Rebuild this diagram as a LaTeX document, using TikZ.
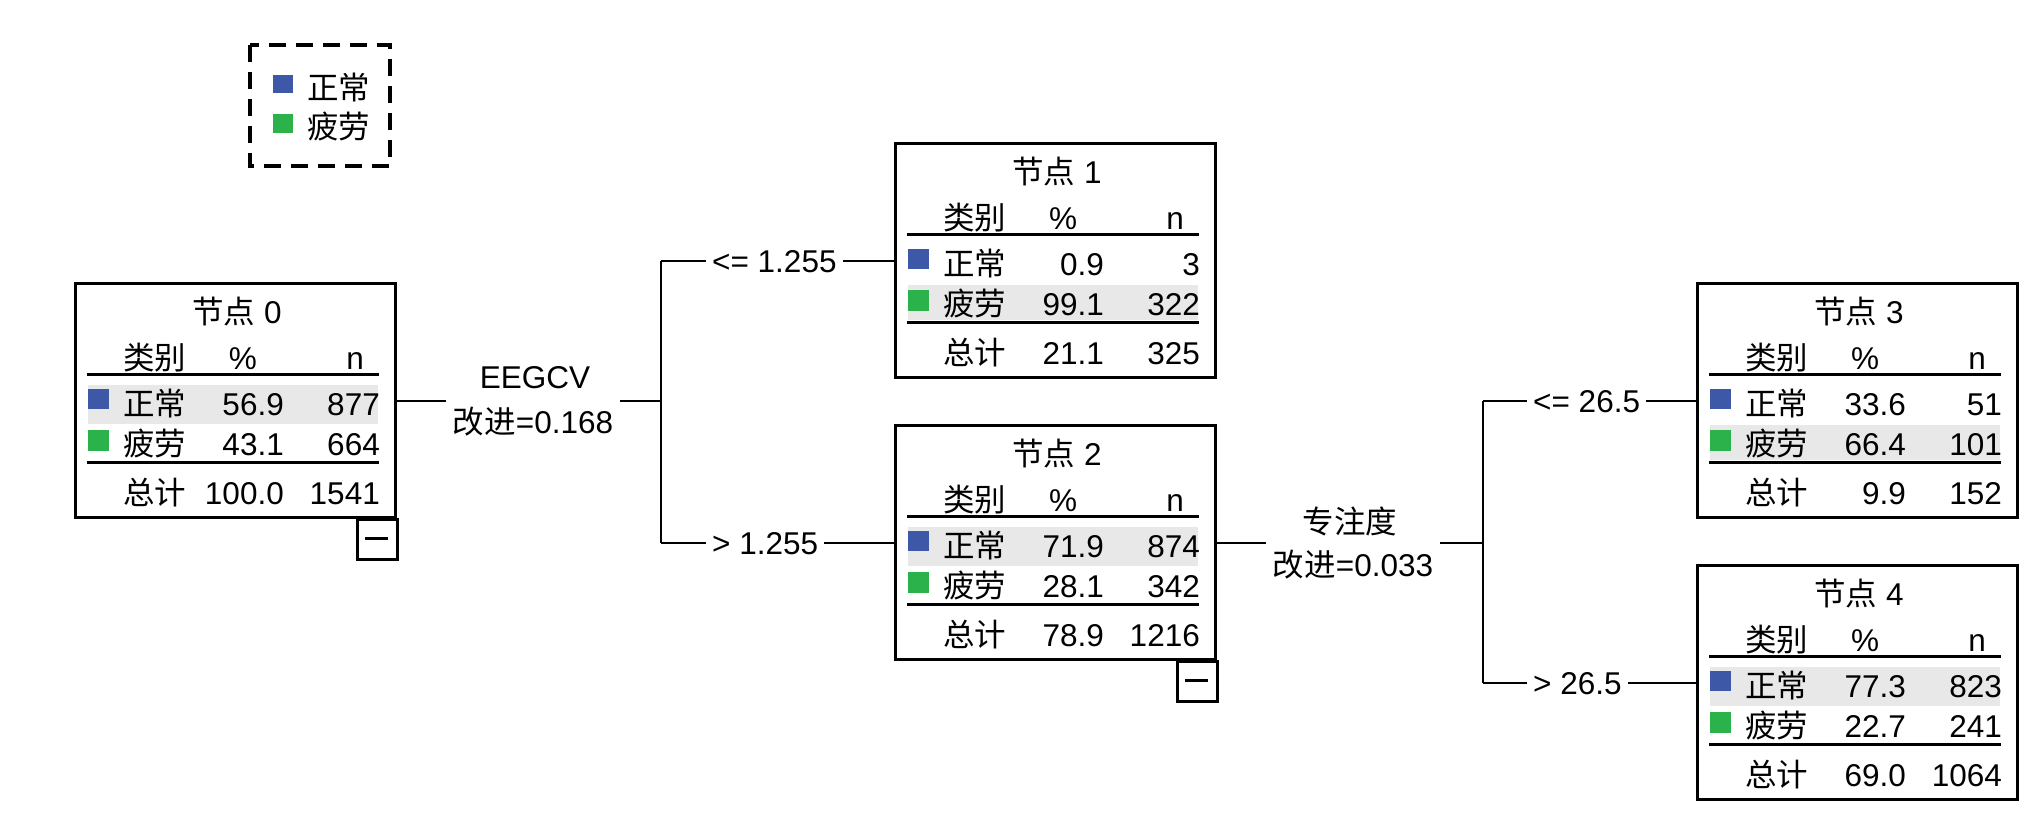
\documentclass[tikz,border=0pt]{standalone}
\usepackage{fontspec}
\setmainfont{Liberation Sans}
\newfontfamily\cjk{Noto Sans CJK SC}
\usetikzlibrary{calc}
\newcommand{\zh}[1]{{\cjk #1}}
\definecolor{clsblue}{RGB}{62,88,168}
\definecolor{clsgreen}{RGB}{43,178,74}
\definecolor{rowshade}{RGB}{232,232,232}
\tikzset{
  txt/.style={inner sep=0pt, font=\fontsize{31.5}{44}\selectfont},
  boxframe/.style={draw, line width=3pt, minimum width=320pt, minimum height=234pt, inner sep=0pt, anchor=north west},
  rulel/.style={line width=3pt},
  conn/.style={line width=2.9pt},
  lbl/.style={txt, inner xsep=6pt},
  legendbox/.style={line width=3.4pt, dash pattern=on 17pt off 10pt},
}
\newcommand{\totals}[3]{%
  \node[txt,anchor=base east] (#1-pt) at (210,222) {#2};
  \node[txt,anchor=base east] (#1-nt) at (306,222) {#3};}
\newcommand{\tnode}[9]{%
  \ifnum#4=1 \def\sya{103}\def\syb{142}\else\def\sya{143}\def\syb{178}\fi
  \begin{scope}[shift={(#2)}]
    \fill[rowshade] (14,\sya) rectangle (304,\syb);
    \node[boxframe] (#1) at (0,0) {};
    \coordinate (#1-in) at (0,119);
    \coordinate (#1-out) at (320,119);
    \node[txt,anchor=base] (#1-title) at (163,41) {\zh{节点} #3};
    \node[txt,anchor=base west] (#1-hcat) at (49,87) {\zh{类别}};
    \node[txt,anchor=base] (#1-hpct) at (169,87) {\%};
    \node[txt,anchor=base east] (#1-hn) at (290,87) {n};
    \draw[rulel] (13,92) -- (305,92);
    \fill[clsblue] (14,107) rectangle (35,127);
    \node[txt,anchor=base west] (#1-c1) at (49,133) {\zh{正常}};
    \node[txt,anchor=base east] (#1-p1) at (210,133) {#5};
    \node[txt,anchor=base east] (#1-n1) at (306,133) {#6};
    \fill[clsgreen] (14,148) rectangle (35,169);
    \node[txt,anchor=base west] (#1-c2) at (49,173) {\zh{疲劳}};
    \node[txt,anchor=base east] (#1-p2) at (210,173) {#7};
    \node[txt,anchor=base east] (#1-n2) at (306,173) {#8};
    \draw[rulel] (13,180) -- (305,180);
    \node[txt,anchor=base west] (#1-c3) at (49,222) {\zh{总计}};
    \totals{#1}#9
  \end{scope}}
\newcommand{\collapsebox}[1]{%
  \begin{scope}[shift={(#1.south east)}]
    \draw[line width=3pt] (-40,0) rectangle (0,40);
    \draw[line width=3pt] (-32,19) -- (-9,19);
  \end{scope}}
\begin{document}
\begin{tikzpicture}[x=1pt,y=-1pt]
\useasboundingbox (0,0) rectangle (2033,812);

% legend
\draw[legendbox] (250,45) rectangle (390,166);
\fill[clsblue] (273,75) rectangle (293,93);
\fill[clsgreen] (273,114) rectangle (293,133);
\node[txt,anchor=base west] (leg1) at (307,99) {\zh{正常}};
\node[txt,anchor=base west] (leg2) at (307,138) {\zh{疲劳}};

% tree nodes
\tnode{n0}{74,282}{0}{1}{56.9}{877}{43.1}{664}{{100.0}{1541}}
\tnode{n1}{894,142}{1}{2}{0.9}{3}{99.1}{322}{{21.1}{325}}
\tnode{n2}{894,424}{2}{1}{71.9}{874}{28.1}{342}{{78.9}{1216}}
\tnode{n3}{1696,282}{3}{2}{33.6}{51}{66.4}{101}{{9.9}{152}}
\tnode{n4}{1696,564}{4}{1}{77.3}{823}{22.7}{241}{{69.0}{1064}}
\collapsebox{n0}
\collapsebox{n2}

% split 0
\coordinate (j0) at (661,0);
\node[txt,anchor=base] (s0a) at (535,388) {EEGCV};
\node[txt,anchor=base,inner xsep=7pt] (s0b) at (533,433) {\zh{改进}=0.168};
\draw[conn] (n0-out) -- (n0-out -| s0b.west);
\draw[conn] (n0-out -| s0b.east) -- (n0-out -| j0);
\draw[conn] (n1-in -| j0) -- (n2-in -| j0);
\node[lbl,anchor=base west] (l1) at (706,272) {<= 1.255};
\node[lbl,anchor=base west] (l2) at (706,554) {> 1.255};
\draw[conn] (n1-in -| j0) -- (n1-in -| l1.west);
\draw[conn] (n1-in -| l1.east) -- (n1-in);
\draw[conn] (n2-in -| j0) -- (n2-in -| l2.west);
\draw[conn] (n2-in -| l2.east) -- (n2-in);

% split 2
\coordinate (j2) at (1483,0);
\node[txt,anchor=base] (s2a) at (1350,533) {\zh{专注度}};
\node[txt,anchor=base,inner xsep=7pt] (s2b) at (1353,576) {\zh{改进}=0.033};
\draw[conn] (n2-out) -- (n2-out -| s2b.west);
\draw[conn] (n2-out -| s2b.east) -- (n2-out -| j2);
\draw[conn] (n3-in -| j2) -- (n4-in -| j2);
\node[lbl,anchor=base west] (l3) at (1527,412) {<= 26.5};
\node[lbl,anchor=base west] (l4) at (1527,694) {> 26.5};
\draw[conn] (n3-in -| j2) -- (n3-in -| l3.west);
\draw[conn] (n3-in -| l3.east) -- (n3-in);
\draw[conn] (n4-in -| j2) -- (n4-in -| l4.west);
\draw[conn] (n4-in -| l4.east) -- (n4-in);
\end{tikzpicture}
\end{document}
